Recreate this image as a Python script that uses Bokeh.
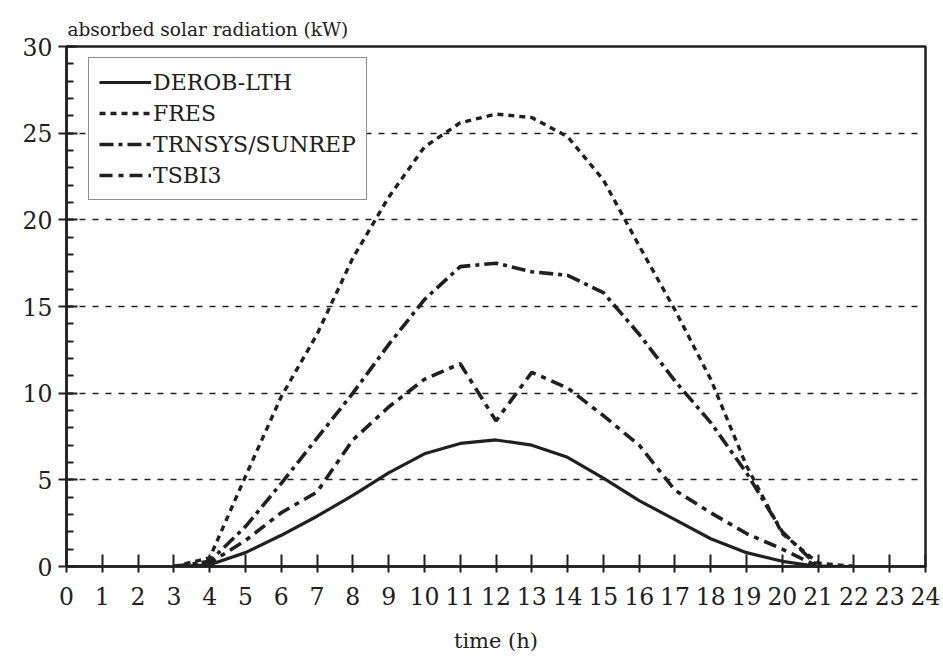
from bokeh.plotting import figure
from bokeh.models import Range1d, SingleIntervalTicker, FixedTicker, Legend, LegendItem
from bokeh.embed import file_html
from bokeh.resources import INLINE

hours = [3, 4, 5, 6, 7, 8, 9, 10, 11, 12, 13, 14, 15, 16, 17, 18, 19, 20, 21, 22]
derob = [0.0, 0.1, 0.8, 1.8, 2.9, 4.1, 5.4, 6.5, 7.1, 7.3, 7.0, 6.3, 5.1, 3.8, 2.7, 1.6, 0.8, 0.3, 0.0, 0.0]
fres = [0.0, 0.5, 5.2, 9.8, 13.4, 17.8, 21.3, 24.2, 25.6, 26.1, 25.9, 24.8, 22.3, 18.5, 14.8, 10.8, 5.8, 1.9, 0.2, 0.0]
trnsys = [0.0, 0.3, 2.3, 4.8, 7.4, 10.0, 12.8, 15.4, 17.3, 17.5, 17.0, 16.8, 15.8, 13.4, 10.7, 8.3, 5.4, 2.0, 0.0, 0.0]
tsbi3 = [0.0, 0.2, 1.5, 3.1, 4.3, 7.3, 9.2, 10.8, 11.7, 8.4, 11.2, 10.3, 8.7, 7.0, 4.4, 3.1, 1.9, 1.0, 0.0, 0.0]

series_names = ["DEROB-LTH", "FRES", "TRNSYS/SUNREP", "TSBI3"]
y_major = [0, 5, 10, 15, 20, 25, 30]
y_minor = list(range(0, 31))

FONT = "DejaVu Serif"
INK = "#202020"

p = figure(width=943, height=669, output_backend="svg", toolbar_location=None,
           x_range=Range1d(0, 24), y_range=Range1d(0, 30),
           min_border_left=66, min_border_right=18, min_border_top=46, min_border_bottom=103)

p.title.text = "absorbed solar radiation (kW)"
p.title.text_font = FONT
p.title.text_font_size = "18.5px"
p.title.text_font_style = "normal"
p.title.text_color = INK
p.title.align = "left"
p.title.offset = 1
p.title.standoff = 13

p.outline_line_color = INK
p.outline_line_width = 2.5
p.background_fill_color = "white"
p.border_fill_color = "white"

p.xgrid.visible = False
p.ygrid.grid_line_color = INK
p.ygrid.grid_line_width = 1.5
p.ygrid.grid_line_dash = "6 7"

xt = SingleIntervalTicker(interval=1, num_minor_ticks=0)
p.xaxis.ticker = xt
p.xgrid.ticker = xt
yt = FixedTicker(ticks=y_major, minor_ticks=y_minor)
p.yaxis.ticker = yt
p.ygrid.ticker = yt

for ax in (p.xaxis[0], p.yaxis[0]):
    ax.axis_line_color = INK
    ax.axis_line_width = 2.5
    ax.major_tick_line_color = INK
    ax.major_tick_line_width = 2
    ax.minor_tick_line_color = INK
    ax.minor_tick_line_width = 2
    ax.major_label_text_font = FONT
    ax.major_label_text_font_size = "23.5px"
    ax.major_label_text_color = INK
    ax.axis_label_text_font = FONT
    ax.axis_label_text_font_style = "normal"
    ax.axis_label_text_color = INK

p.xaxis.major_tick_in = 12
p.xaxis.major_tick_out = 6
p.xaxis.major_label_standoff = 14
p.xaxis.axis_label = "time (h)"
p.xaxis.axis_label_text_font_size = "21px"
p.xaxis.axis_label_standoff = 21

p.yaxis.major_tick_in = 11
p.yaxis.major_tick_out = 8
p.yaxis.minor_tick_in = 7
p.yaxis.minor_tick_out = 0
p.yaxis.major_label_standoff = 6

r1 = p.line(hours, derob, line_color=INK, line_width=3.2)
r2 = p.line(hours, fres, line_color=INK, line_width=3.4, line_dash="6 5")
r3 = p.line(hours, trnsys, line_color=INK, line_width=3.6, line_dash="14 5 4 5")
r4 = p.line(hours, tsbi3, line_color=INK, line_width=3.6, line_dash="13 6 5 6")

legend = Legend(items=[LegendItem(label=series_names[0], renderers=[r1]),
                       LegendItem(label=series_names[1], renderers=[r2]),
                       LegendItem(label=series_names[2], renderers=[r3]),
                       LegendItem(label=series_names[3], renderers=[r4])],
                location=(22, 366))
legend.label_text_font = FONT
legend.label_text_font_size = "22px"
legend.label_text_color = INK
legend.glyph_width = 52
legend.glyph_height = 28
legend.label_height = 28
legend.label_standoff = 2
legend.spacing = 3
legend.padding = 10
legend.margin = 0
legend.border_line_color = INK
legend.border_line_width = 1.8
legend.background_fill_alpha = 1.0
p.add_layout(legend)

open("out.html", "w").write(file_html(p, INLINE))
